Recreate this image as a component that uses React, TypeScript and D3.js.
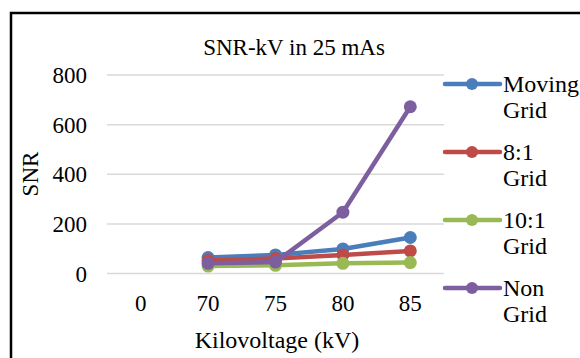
import React, { useEffect, useRef } from 'react';
import * as d3 from 'd3';

const categories = ['0', '70', '75', '80', '85'];
const seriesNames = ['Moving Grid', '8:1 Grid', '10:1 Grid', 'Non Grid'];
const movingGrid = [null, 64, 75, 99, 145];
const grid8 = [null, 52, 60, 75, 91];
const grid10 = [null, 30, 33, 41, 44];
const nonGrid = [null, 41, 46, 247, 672];
const yTicks = [0, 200, 400, 600, 800];
const colors = ['#4a7ebb', '#be4b48', '#98b954', '#7d5fa0'];

const W = 580;
const H = 358;
const FONT = '"Liberation Serif", "Times New Roman", serif';

export default function App() {
  const svgRef = useRef<SVGSVGElement>(null);

  useEffect(() => {
    document.body.style.margin = '0';
    if (!svgRef.current) return;
    const svg = d3.select(svgRef.current);
    svg.selectAll('*').remove();

    const x = d3.scaleBand().domain(categories).range([107, 444]);
    const y = d3.scaleLinear().domain([0, 800]).range([273.5, 75]);
    const cx = (c: string) => (x(c) || 0) + x.bandwidth() / 2;

    // outer frame (only left and top edges visible)
    svg.append('rect').attr('x', 11).attr('y', 13).attr('width', 620).attr('height', 400)
      .attr('fill', 'white').attr('stroke', '#000').attr('stroke-width', 2.5);

    // gridlines
    svg.append('g').selectAll('line').data(yTicks).enter().append('line')
      .attr('x1', 107).attr('x2', 444)
      .attr('y1', (d) => y(d)).attr('y2', (d) => y(d))
      .attr('stroke', '#d9d9d9').attr('stroke-width', 1.5);

    // y tick labels
    svg.append('g').selectAll('text').data(yTicks).enter().append('text')
      .attr('x', 87).attr('y', (d) => y(d)).attr('dy', '0.35em')
      .attr('text-anchor', 'end').attr('font-family', FONT).attr('font-size', 23)
      .text((d) => d);

    // x tick labels
    svg.append('g').selectAll('text').data(categories).enter().append('text')
      .attr('x', (d) => cx(d)).attr('y', 311)
      .attr('text-anchor', 'middle').attr('font-family', FONT).attr('font-size', 23)
      .text((d) => d);

    // titles
    svg.append('text').attr('x', 294).attr('y', 55).attr('text-anchor', 'middle')
      .attr('font-family', FONT).attr('font-size', 23).text('SNR-kV in 25 mAs');
    svg.append('text').attr('x', 277).attr('y', 348).attr('text-anchor', 'middle')
      .attr('font-family', FONT).attr('font-size', 24).text('Kilovoltage (kV)');
    svg.append('text').attr('transform', 'translate(38,174) rotate(-90)').attr('text-anchor', 'middle')
      .attr('font-family', FONT).attr('font-size', 23).text('SNR');

    const allSeries = [movingGrid, grid8, grid10, nonGrid];
    const line = d3.line<[string, number | null]>()
      .defined((d) => d[1] != null)
      .x((d) => cx(d[0]))
      .y((d) => y(d[1] as number));

    allSeries.forEach((vals, i) => {
      const pts = categories.map((c, j) => [c, vals[j]] as [string, number | null]);
      const g = svg.append('g');
      g.append('path').datum(pts).attr('d', line).attr('fill', 'none')
        .attr('stroke', colors[i]).attr('stroke-width', 4.5).attr('stroke-linejoin', 'round');
      g.selectAll('circle').data(pts.filter((p) => p[1] != null)).enter().append('circle')
        .attr('cx', (d) => cx(d[0])).attr('cy', (d) => y(d[1] as number)).attr('r', 6.5)
        .attr('fill', colors[i]);
    });

    // legend
    const legendY = [84, 152, 220, 288];
    seriesNames.forEach((name, i) => {
      const g = svg.append('g').attr('transform', `translate(0,${legendY[i]})`);
      g.append('line').attr('x1', 445).attr('x2', 500).attr('y1', 0).attr('y2', 0)
        .attr('stroke', colors[i]).attr('stroke-width', 4.5).attr('stroke-linecap', 'round');
      g.append('circle').attr('cx', 472).attr('cy', 0).attr('r', 6).attr('fill', colors[i]);
      const parts = name.split(' ');
      const t = g.append('text').attr('font-family', FONT).attr('font-size', 24);
      parts.forEach((p, k) => {
        t.append('tspan').attr('x', 503).attr('y', k * 26).attr('dy', '0.35em').text(p);
      });
    });
  }, []);

  return <svg ref={svgRef} width={W} height={H} style={{ display: 'block' }} />;
}
